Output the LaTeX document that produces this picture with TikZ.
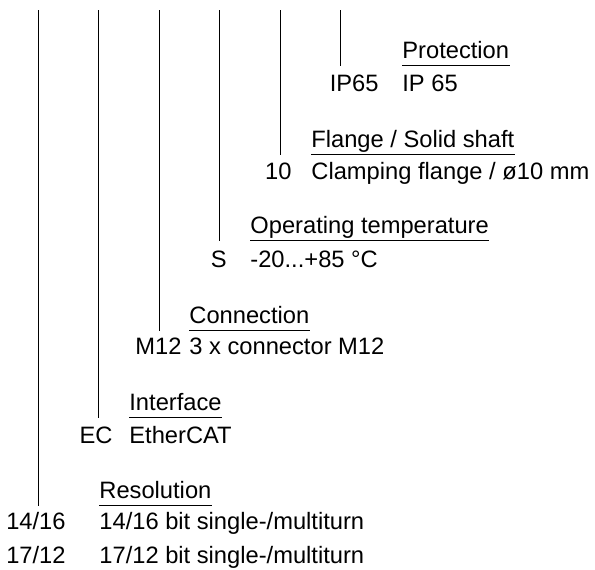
\documentclass[tikz,border=0pt]{standalone}
\usepackage{fontspec}
\setmainfont{Liberation Sans}
\usepackage{tikz}
\usetikzlibrary{positioning, calc}
\tikzstyle{head} = [anchor=base west, inner xsep=0pt, inner ysep=3.75pt, text depth=0pt, font=\fontsize{11.85}{14}\selectfont]
\tikzstyle{code} = [anchor=base east, inner sep=0pt, font=\fontsize{11.85}{14}\selectfont]
\tikzstyle{desc} = [anchor=base west, inner sep=0pt, font=\fontsize{11.85}{14}\selectfont]
\tikzstyle{tick} = [line width=0.45pt, black]

\begin{document}
\begin{tikzpicture}[x=0.5pt, y=-0.5pt]
    \useasboundingbox (0,0) rectangle (595,569);

    % Protection
    \coordinate (topProt) at (340,10);
    \node[head] (protH) at (402,58) {Protection};
    \node[code] (protC) at (379,91) {IP65};
    \node[desc] (protD) at (402,91) {IP 65};
    \draw[tick] (topProt) -- (topProt |- protH.south);
    \draw[tick] (protH.south west) -- (protH.south east);

    % Flange / shaft
    \coordinate (topFlange) at (280,10);
    \node[head] (flangeH) at (311,147) {Flange / Solid shaft};
    \node[code] (flangeC) at (292,179) {10};
    \node[desc] (flangeD) at (311,179) {Clamping flange / ø10 mm};
    \draw[tick] (topFlange) -- (topFlange |- flangeH.south);
    \draw[tick] (flangeH.south west) -- (flangeH.south east);

    % Operating temperature
    \coordinate (topTemp) at (219,10);
    \node[head] (tempH) at (250,233) {Operating temperature};
    \node[code] (tempC) at (227,267) {S};
    \node[desc] (tempD) at (250,267) {-20...+85 °C};
    \draw[tick] (topTemp) -- (topTemp |- tempH.south);
    \draw[tick] (tempH.south west) -- (tempH.south east);

    % Connection
    \coordinate (topConn) at (159,10);
    \node[head] (connH) at (189,323) {Connection};
    \node[code] (connC) at (182,354) {M12};
    \node[desc] (connD) at (189,354) {3 x connector M12};
    \draw[tick] (topConn) -- (topConn |- connH.south);
    \draw[tick] (connH.south west) -- (connH.south east);

    % Interface
    \coordinate (topIf) at (98,10);
    \node[head] (ifH) at (129,410) {Interface};
    \node[code] (ifC) at (113,443) {EC};
    \node[desc] (ifD) at (129,443) {EtherCAT};
    \draw[tick] (topIf) -- (topIf |- ifH.south);
    \draw[tick] (ifH.south west) -- (ifH.south east);

    % Resolution
    \coordinate (topRes) at (38,10);
    \node[head] (resH) at (99,498) {Resolution};
    \node[code] (resCa) at (66,529) {14/16};
    \node[desc] (resDa) at (99,529) {14/16 bit single-/multiturn};
    \node[code] (resCb) at (66,563) {17/12};
    \node[desc] (resDb) at (99,563) {17/12 bit single-/multiturn};
    \draw[tick] (topRes) -- (topRes |- resH.south);
    \draw[tick] (resH.south west) -- (resH.south east);
\end{tikzpicture}
\end{document}
